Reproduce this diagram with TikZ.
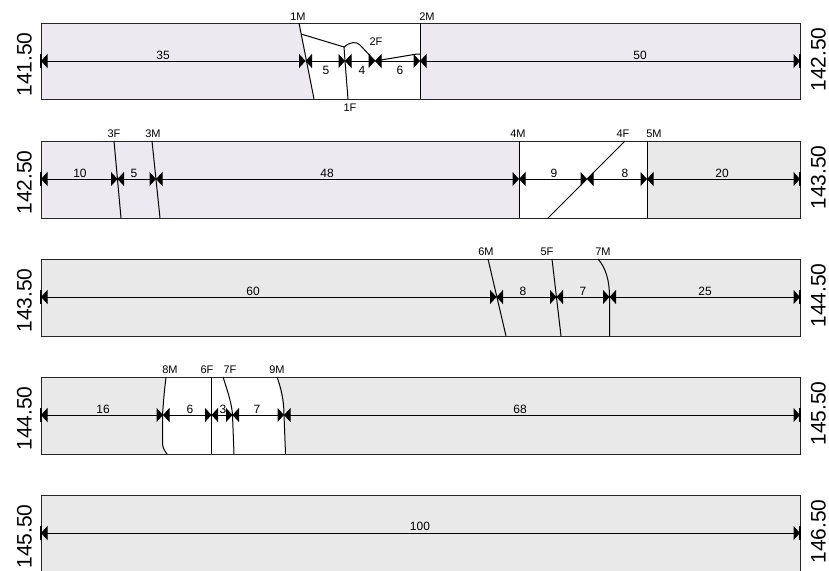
\documentclass[tikz,border=0pt]{standalone}
\usepackage{fontspec}
\setmainfont{Liberation Sans}
\usetikzlibrary{arrows.meta}

\definecolor{bandgray}{RGB}{233,233,233}
\definecolor{bandlilac}{RGB}{237,233,240}

\tikzset{
  band/.style={draw=black!85, line width=0.9pt},
  joint/.style={line width=1pt},
  dim/.style={line width=1pt, {Triangle[length=6.5pt,width=14pt]}-{Triangle[length=6.5pt,width=14pt]}},
  endbar/.style={line width=1.5pt},
  seglab/.style={font=\fontsize{12}{12}\selectfont, inner sep=0pt},
  jointlab/.style={font=\fontsize{11}{11}\selectfont, inner sep=0pt},
  chain/.style={font=\fontsize{21}{21}\selectfont, rotate=90, inner sep=0pt},
}

\begin{document}
\begin{tikzpicture}[x=1pt,y=-1pt]
\useasboundingbox (0,0) rectangle (829,570);

% strip 1
\fill[bandlilac] (41,23) rectangle (800,99);
\fill[white] (299,23) -- (420,23) -- (420,99) -- (314,99) -- cycle;
\draw[band] (41,23) rectangle (800,99);
\draw[joint] (299,23) -- (314,99);
\draw[joint] (420,23) -- (420,99);
\draw[joint] (301,34) -- (344,47) -- (345,61) -- (348,99);
\draw[joint] (344,47) .. controls (350,42) and (356,41) .. (360,45) -- (375,61) -- (417,54) -- (420,54);
\foreach \x [remember=\x as \lastx (initially 41)] in {305.5,345,375,420,800}
  \draw[dim] (\lastx,61) -- (\x,61);
\foreach \x/\y/\t [count=\i] in {163/55/35, 326/70/5, 362/70/4, 400/70/6, 640/55/50}
  \node[seglab] (a\i) at (\x,\y) {\t};
\foreach \x/\y/\t [count=\i] in {298/16.5/1M, 427/16.5/2M, 376/42/2F, 350/108/1F}
  \node[jointlab] (ja\i) at (\x,\y) {\t};

% strip 2
\fill[bandlilac] (41,141) rectangle (519,218);
\fill[white] (519,141) rectangle (647,218);
\fill[bandgray] (647,141) rectangle (800,218);
\draw[band] (41,141) rectangle (800,218);
\draw[joint] (114,141) -- (121,218);
\draw[joint] (152,141) -- (160,218);
\draw[joint] (519,141) -- (519,218);
\draw[joint] (625,141) -- (548,218);
\draw[joint] (647,141) -- (647,218);
\foreach \x [remember=\x as \lastx (initially 41)] in {117.5,156,519,587,647,800}
  \draw[dim] (\lastx,179) -- (\x,179);
\foreach \x/\t [count=\i] in {80/10, 134/5, 327/48, 554/9, 625/8, 722/20}
  \node[seglab] (b\i) at (\x,173) {\t};
\foreach \x/\t [count=\i] in {114/3F, 153/3M, 518/4M, 623/4F, 654/5M}
  \node[jointlab] (jb\i) at (\x,134) {\t};

% strip 3
\fill[bandgray] (41,259) rectangle (800,336);
\draw[band] (41,259) rectangle (800,336);
\draw[joint] (488,259) -- (506,336);
\draw[joint] (552,259) -- (561,336);
\draw[joint] (598,259) .. controls (606,268) and (609.5,281) .. (609.5,297) -- (609.5,336);
\foreach \x [remember=\x as \lastx (initially 41)] in {496.5,556.5,609.5,800}
  \draw[dim] (\lastx,297) -- (\x,297);
\foreach \x/\t [count=\i] in {253/60, 523/8, 583/7, 705/25}
  \node[seglab] (c\i) at (\x,291) {\t};
\foreach \x/\t [count=\i] in {486/6M, 547/5F, 603/7M}
  \node[jointlab] (jc\i) at (\x,252) {\t};

% strip 4
\fill[bandgray] (41,377) rectangle (800,454);
\fill[white] (166,377) -- (277,377) -- (284,415) -- (285.5,454) -- (167,454)
  -- (162.5,443) -- (162.5,415) -- cycle;
\draw[band] (41,377) rectangle (800,454);
\draw[joint] (166,377) .. controls (164,395) .. (162.5,415) -- (162.5,443) .. controls (163,448) .. (167,454);
\draw[joint] (211.5,377) -- (211.5,454);
\draw[joint] (223,377) .. controls (228,392) and (232,405) .. (232.5,415) -- (234,454);
\draw[joint] (277,377) .. controls (281,388) and (284,400) .. (284,415) -- (285.5,454);
\foreach \x [remember=\x as \lastx (initially 41)] in {163,211.5,232.5,284,800}
  \draw[dim] (\lastx,415) -- (\x,415);
\foreach \x/\t [count=\i] in {103/16, 190/6, 223/3, 257/7, 520/68}
  \node[seglab] (d\i) at (\x,409) {\t};
\foreach \x/\t [count=\i] in {170/8M, 207/6F, 230/7F, 277/9M}
  \node[jointlab] (jd\i) at (\x,370) {\t};

% strip 5
\fill[bandgray] (41,495) rectangle (800,575);
\draw[band] (41,495) rectangle (800,575);
\draw[dim] (41,533) -- (800,533);
\node[seglab] (e1) at (420,526) {100};

% end ticks and chainages
\foreach \y/\a/\b [count=\i] in {61/141.50/142.50, 179/142.50/143.50, 297/143.50/144.50,
    415/144.50/145.50, 533/145.50/146.50} {
  \draw[endbar] (41,\y-7) -- (41,\y+7);
  \draw[endbar] (800,\y-7) -- (800,\y+7);
  \node[chain] (cl\i) at (24.5,\y+3.5) {\a};
  \node[chain] (cr\i) at (818.5,\y-1.5) {\b};
}
\end{tikzpicture}
\end{document}
